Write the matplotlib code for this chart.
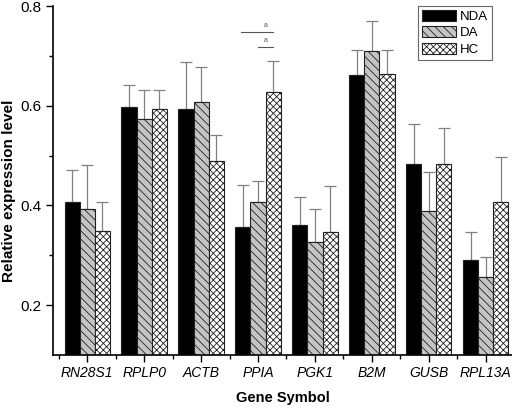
import matplotlib.pyplot as plt
import numpy as np
from matplotlib.ticker import FixedLocator

plt.rcParams['font.family'] = ['Liberation Sans', 'DejaVu Sans']
plt.rcParams['hatch.linewidth'] = 0.6

genes = ['RN28S1', 'RPLP0', 'ACTB', 'PPIA', 'PGK1', 'B2M', 'GUSB', 'RPL13A']
groups = ['NDA', 'DA', 'HC']

nda = [0.407, 0.598, 0.593, 0.357, 0.361, 0.662, 0.483, 0.290]
da = [0.393, 0.573, 0.607, 0.408, 0.327, 0.710, 0.389, 0.256]
hc = [0.349, 0.593, 0.489, 0.627, 0.346, 0.663, 0.483, 0.407]

nda_err = [0.064, 0.044, 0.095, 0.084, 0.056, 0.050, 0.080, 0.057]
da_err = [0.088, 0.059, 0.071, 0.042, 0.066, 0.060, 0.078, 0.040]
hc_err = [0.058, 0.039, 0.052, 0.063, 0.094, 0.049, 0.073, 0.090]

# significance markers over PPIA (y levels)
sig_levels = [0.748, 0.718]

fig = plt.figure(figsize=(5.12, 4.09), dpi=100)
ax = fig.add_axes([0.1035, 0.132, 0.8965, 0.853])

x = np.arange(len(genes))
width = 0.265
styles = [
    dict(color='black', hatch=None),
    dict(color='#c4c4c4', hatch='\\\\\\\\'),
    dict(color='white', hatch='xxxxx'),
]
series = [nda, da, hc]
errs = [nda_err, da_err, hc_err]

for i, (vals, err, st, lab) in enumerate(zip(series, errs, styles, groups)):
    pos = x + (i - 1) * width
    ax.bar(pos, vals, width, bottom=0, facecolor=st['color'], edgecolor='#222222',
           hatch=st['hatch'], linewidth=0.8, label=lab, zorder=2)
    ax.errorbar(pos, vals, yerr=[np.zeros(len(vals)), err], fmt='none',
                ecolor='#808080', elinewidth=0.9, capsize=4, capthick=0.9, zorder=1)

# significance lines
ax.plot([x[3] - 0.3, x[3] + width], [sig_levels[0]] * 2, color='#555555', lw=0.8)
ax.plot([x[3], x[3] + width], [sig_levels[1]] * 2, color='#555555', lw=0.8)
for lvl in sig_levels:
    ax.text(x[3] + 0.14, lvl + 0.006, 'a', fontsize=5, ha='center', va='bottom', color='#555555')

ax.set_ylim(0.1, 0.8)
ax.set_xlim(-0.6, 7.46)
ax.set_yticks([0.2, 0.4, 0.6, 0.8])
ax.yaxis.set_minor_locator(FixedLocator([0.3, 0.5, 0.7]))
ax.set_xticks(x)
ax.set_xticklabels(genes, style='italic', fontsize=10)
ax.xaxis.set_minor_locator(FixedLocator(np.arange(-0.5, 8, 1.0)))
ax.tick_params(axis='both', which='major', length=5, width=1, direction='out')
ax.tick_params(axis='y', which='major', labelsize=11)
ax.tick_params(axis='both', which='minor', length=3, width=1, direction='out')
ax.tick_params(axis='x', which='major', pad=3)

for s in ['top', 'right']:
    ax.spines[s].set_visible(False)
for s in ['left', 'bottom']:
    ax.spines[s].set_linewidth(1.2)

ax.set_ylabel('Relative expression level', fontsize=11, fontweight='bold')
ax.yaxis.set_label_coords(-0.08, 0.47)
ax.set_xlabel('Gene Symbol', fontsize=10.5, fontweight='bold', labelpad=8)

leg = ax.legend(loc='upper right', bbox_to_anchor=(492 / 512, 1 - 6 / 409),
                bbox_transform=fig.transFigure, fontsize=9.5, frameon=True, fancybox=False,
                edgecolor='#444444', handlelength=2.6, handleheight=0.9,
                handletextpad=0.3, labelspacing=0.25, borderpad=0.3, borderaxespad=0)
leg.get_frame().set_linewidth(0.8)

fig.savefig('out.png', dpi=100)
